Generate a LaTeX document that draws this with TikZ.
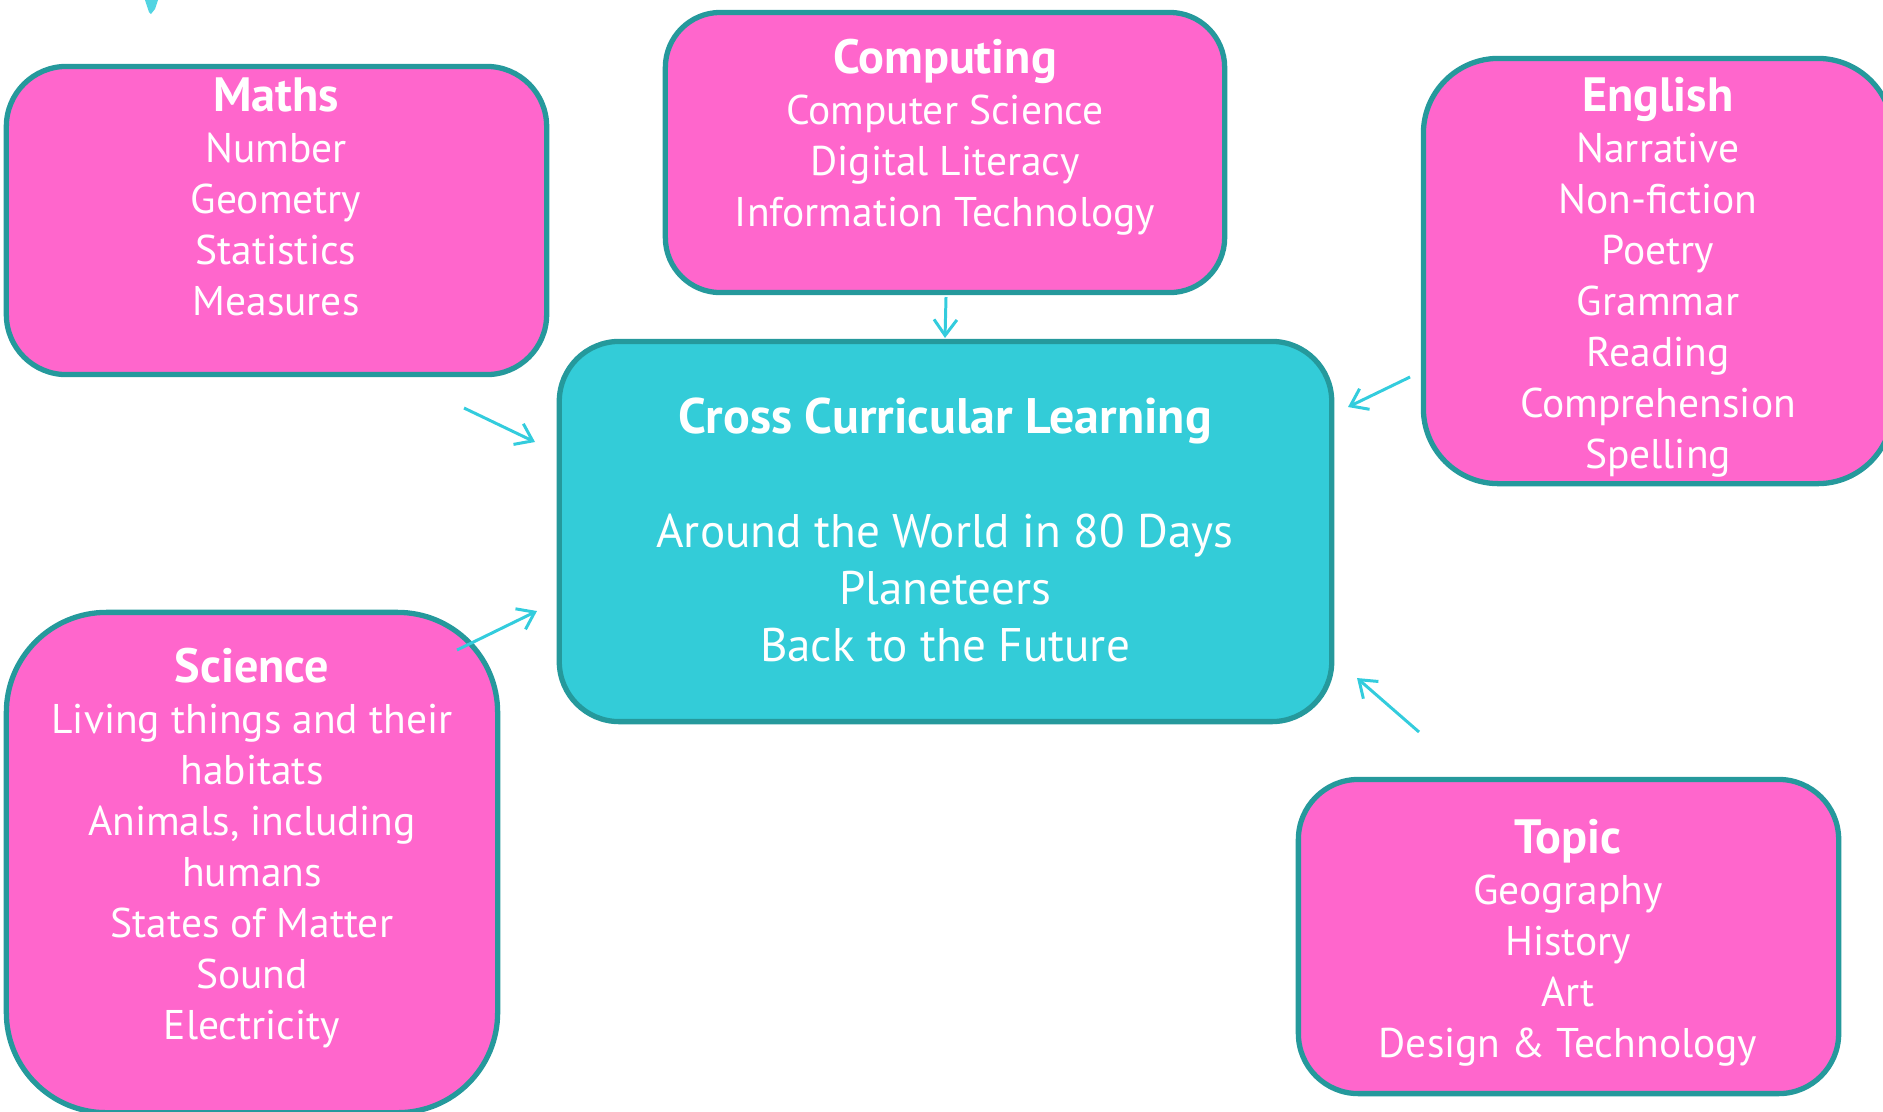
\documentclass[tikz,border=0pt]{standalone}
\usepackage{fontspec}
\setmainfont{PT Sans}
\usetikzlibrary{arrows.meta}
\definecolor{pinkfill}{HTML}{FF66CC}
\definecolor{tealborder}{HTML}{25999C}
\definecolor{cyanfill}{HTML}{33CCD8}
\definecolor{arrowcol}{HTML}{33CCDD}
\newcommand\hd[1]{{\fontsize{13.7}{14.5}\selectfont\bfseries #1}}
\begin{document}
\begin{tikzpicture}[x=0.01cm,y=-0.01cm,
  subj/.style={draw=tealborder, line width=1.5pt, fill=pinkfill, rounded corners=0.6cm, inner sep=0},
  hub/.style={subj, fill=cyanfill},
  txt/.style={text=white, align=center, inner sep=0, anchor=north, font=\fontsize{11.8}{14.5}\selectfont},
  link/.style={draw=arrowcol, line width=0.85pt, -{Straight Barb[length=4.5pt,width=6.5pt]}}]
\useasboundingbox (0,0) rectangle (1883,1111);
\clip (0,0) rectangle (1883,1111);
% boxes
\node[subj, minimum width=5.40cm, minimum height=3.08cm] (maths) at (276.5,220.5) {};
\node[subj, minimum width=5.59cm, minimum height=2.80cm, rounded corners=0.55cm] (comp) at (945,152.5) {};
\node[subj, minimum width=4.69cm, minimum height=4.25cm, rounded corners=0.75cm] (eng) at (1658,271) {};
\node[hub, minimum width=7.72cm, minimum height=3.80cm] (hub) at (945.5,531.5) {};
\node[subj, minimum width=4.91cm, minimum height=5.00cm, rounded corners=1.0cm] (sci) at (252,862.5) {};
\node[subj, minimum width=5.40cm, minimum height=3.14cm] (topic) at (1568.5,936.5) {};
% texts
\node[txt] (mathsT) at (276,77) {\hd{Maths}\\Number\\Geometry\\Statistics\\Measures};
\node[txt] (compT) at (945,38) {\hd{Computing}\\Computer Science\\Digital Literacy\\Information Technology};
\node[txt] (engT) at (1658,77) {\hd{English}\\Narrative\\Non-fiction\\Poetry\\Grammar\\Reading\\Comprehension\\Spelling};
\node[txt] (sciT) at (252,647) {\hd{Science}\\Living things and their\\habitats\\Animals, including\\humans\\States of Matter\\Sound\\Electricity};
\node[txt] (topicT) at (1568,819) {\hd{Topic}\\Geography\\History\\Art\\Design \& Technology};
\node[txt, font=\fontsize{13.4}{16.2}\selectfont] (hubT) at (945,397) {{\fontsize{14.2}{16.2}\selectfont\bfseries Cross Curricular Learning}\\[16.2pt]Around the World in 80 Days\\Planeteers\\Back to the Future};
% arrows
\coordinate (a1s) at (464,408); \coordinate (a1e) at (535,442);
\coordinate (a2s) at (457,650); \coordinate (a2e) at (537,611);
\coordinate (a3s) at (946,297); \coordinate (a3e) at (945,338);
\coordinate (a4s) at (1410,377); \coordinate (a4e) at (1348,407);
\coordinate (a5s) at (1419,732); \coordinate (a5e) at (1357,678);
\draw[link] (a1s) -- (a1e);
\draw[link] (a2s) -- (a2e);
\draw[link] (a3s) -- (a3e);
\draw[link] (a4s) -- (a4e);
\draw[link] (a5s) -- (a5e);
% decoration at top
\fill[arrowcol!85!white] (145,0) -- (158,0) -- (155,9) -- (151,14) -- (149,12) -- cycle;
\end{tikzpicture}
\end{document}
